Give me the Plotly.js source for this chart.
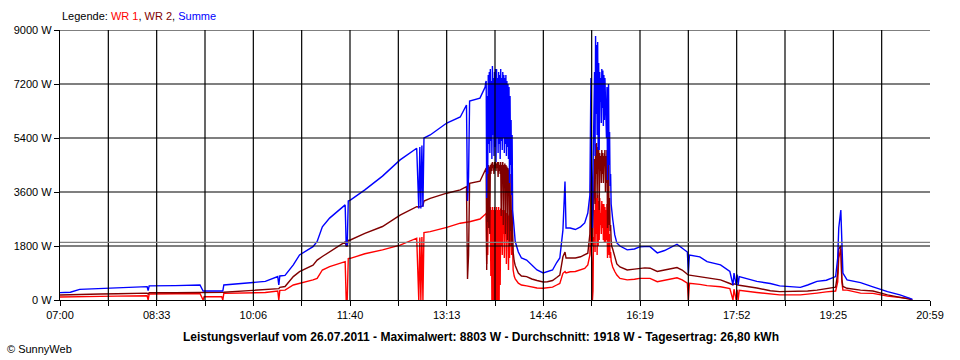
<!DOCTYPE html>
<html>
<head>
<meta charset="utf-8">
<script src="https://cdn.plot.ly/plotly-3.0.1.min.js"></script>
<style>html,body{margin:0;padding:0;background:#fff;}#chart{width:960px;height:360px;}</style>
</head>
<body>
<div id="chart"></div>
<script>
// ---- data ----
const times = ["07:00","07:10","07:19","07:39","07:55","08:17","08:24","08:25","08:26","08:51","09:15","09:18","09:19","09:36","09:37","09:38","10:06","10:18","10:30","10:31","10:32","10:37","10:45","10:51","11:04","11:08","11:13","11:20","11:35","11:36","11:37","11:38","11:40","11:54","12:11","12:28","12:44","12:46","12:47","12:48","12:49","12:50","12:51","12:57","13:13","13:26","13:32","13:33","13:34","13:35","13:45",
"13:50:00","13:50:30","13:51:00","13:51:30","13:52:00","13:52:30","13:53:00","13:53:30","13:54:00","13:54:30","13:55:00","13:55:30","13:56:00","13:56:30","13:57:00","13:57:30","13:58:00","13:58:30","13:59:00","13:59:30",
"14:00:00","14:00:30","14:01:00","14:01:30","14:02:00","14:02:30","14:03:00","14:03:30","14:04:00","14:04:30","14:05:00","14:05:30","14:06:00","14:06:30","14:07:00","14:07:30","14:08:00","14:08:30","14:09:00","14:09:30",
"14:10:00","14:10:30","14:11:00","14:11:30","14:12:00","14:12:30","14:13:00","14:13:30","14:14:00","14:14:30","14:15:00","14:15:30","14:16:00","14:16:30","14:17","14:18","14:19",
"14:22","14:25","14:30","14:35","14:40","14:46","14:50","14:55","14:59","15:02","15:05","15:07","15:08","15:12","15:17","15:22","15:26","15:29",
"15:31:00","15:31:30","15:32:00","15:32:30","15:33:00","15:33:30","15:34:00","15:34:30","15:35:00","15:35:30","15:36:00","15:36:30","15:37:00","15:37:30","15:38:00","15:38:30","15:39:00","15:39:30",
"15:40:00","15:40:30","15:41:00","15:41:30","15:42:00","15:42:30","15:43:00","15:43:30","15:44:00","15:44:30","15:45:00","15:45:30","15:46:00","15:46:30","15:47:00","15:47:30","15:48:00","15:48:30","15:49:00","15:49:30",
"15:50:00","15:50:30","15:51:00","15:51:30","15:52","15:53",
"15:55","15:57","16:00","16:07","16:14","16:19","16:24","16:29","16:36","16:43","16:55","17:00","17:05","17:06","17:07","17:17","17:24","17:37","17:46","17:49","17:50","17:52","17:53","17:54","17:55","18:12","18:25","18:34","18:54","19:01","19:10","19:19","19:22","19:28","19:30","19:31","19:33","19:34","19:35","19:39","19:52","20:04","20:18","20:30","20:39","20:41","20:42"];

const summe = [245,260,355,380,400,440,445,310,470,480,500,300,300,300,300,500,590,620,780,500,800,820,1170,1500,1780,1950,2440,2730,3170,1830,1830,3300,3330,3670,4130,4670,5060,3050,5100,3050,5150,3100,5400,5500,5900,6100,6500,3300,4100,6630,6730,
7100,7250,7300,3400,6800,4200,7500,5200,7600,4900,7700,5300,7300,4700,7800,5500,7400,4800,7600,5100,
7700,4600,7700,5400,7400,4900,7600,5200,7500,4700,7700,5300,7400,5000,7600,5400,7500,4900,7400,5200,
7500,4800,7300,5100,7200,4700,7100,3900,6800,4500,6000,3500,5500,3000,2800,2200,1950,
1600,1400,1330,1150,1000,900,950,1000,1250,1400,2330,3950,2400,2400,2350,2440,2570,2900,
3500,5200,7400,4300,3000,2400,4200,6000,5500,7600,4800,8803,6200,8500,5500,8600,5000,7900,
5000,7600,6600,7400,5900,7700,6400,7650,5800,7500,6000,7400,6200,6700,5400,7100,4000,6500,7200,4500,
5600,3800,4200,3200,2900,2700,
2170,1900,1800,1670,1700,1770,1780,1780,1570,1650,1860,1730,1600,900,1500,1440,1280,1170,950,500,900,500,850,500,780,620,550,470,420,500,620,660,700,780,1400,2400,3000,1500,900,670,580,440,280,170,80,40,20];

const wr2 = [167,170,190,200,210,220,230,200,240,240,245,250,250,250,250,260,320,360,400,380,420,450,780,943,1160,1330,1450,1610,1940,1800,1800,1990,2000,2220,2450,2830,3110,3100,3120,3120,3130,3150,3300,3390,3560,3670,3780,700,1500,3890,3960,
4330,4380,4400,1000,4300,2600,4500,2400,4450,2200,4500,4200,4550,4300,4600,4400,4500,4200,4600,4400,
4600,4300,4550,4400,4600,4100,4600,4300,4500,4200,4600,2800,4500,4300,4600,2500,4500,4200,4550,2200,
4500,4300,4450,2000,4400,4100,4350,1800,4200,2300,3500,1800,3000,1700,1600,1300,1150,
900,800,780,700,650,600,610,650,750,830,1440,1600,1400,1390,1400,1440,1500,1560,
2200,3300,4400,2600,1800,2000,2600,3800,3500,4700,3200,5200,4200,5230,3400,5100,4600,5000,
3000,4900,4300,4800,3900,5000,4200,4900,3900,4800,4600,5000,3600,4800,3900,5000,2400,4300,4700,2500,
3400,2300,2500,2000,1800,1700,
1400,1200,1100,1000,1030,1060,1070,1060,950,1000,1080,1000,830,830,830,780,750,670,550,500,540,520,510,500,490,400,310,280,280,300,330,370,400,430,900,1700,1800,700,450,390,330,300,170,100,30,10,0];

const wr1 = [100,100,110,120,130,140,140,0,200,210,215,0,110,110,0,220,240,250,300,0,320,330,500,550,670,720,1000,1110,1280,0,0,1380,1390,1540,1670,1830,2060,0,2080,0,2100,0,2250,2280,2420,2560,2600,2600,2600,2610,2700,
2830,2870,2900,1200,2800,1500,3000,2700,3000,2600,3100,800,3000,0,3100,0,3000,0,3100,0,
3000,0,3100,0,3000,0,3100,0,3000,500,3050,1800,3000,1500,3000,2200,2950,1400,3000,2500,
2900,1200,2900,2400,2850,1000,2800,1400,2700,1800,2300,1500,2500,1100,1000,800,700,
560,500,470,430,400,390,400,430,500,550,890,950,900,940,950,1000,1050,1170,
1500,2000,3000,1600,1200,0,300,2100,2000,3000,1600,3600,2200,3400,1500,3500,1800,3300,
2000,3400,2500,2900,2200,3300,2400,3200,2000,3200,1900,3100,1900,3000,2000,3200,1400,2600,2800,1500,
2200,1400,1600,1300,1200,1100,
950,830,720,670,690,720,720,720,610,650,740,670,560,0,560,520,480,440,380,0,360,0,340,0,320,250,210,170,170,190,230,270,280,300,600,1400,1700,600,330,330,230,220,130,90,50,10,0];

const tickLabels = ["07:00","08:33","10:06","11:40","13:13","14:46","16:19","17:52","19:25","20:59"];
const yTicks = [0,1800,3600,5400,7200,9000];
const average = 1918;

// ---- helpers ----
const toMin = s => { const p = s.split(":"); return (+p[0]-7)*60 + (+p[1]) + (p[2] ? (+p[2])/60 : 0); };
const xs = times.map(toMin);
const span = toMin(tickLabels[tickLabels.length-1]); // 839
const nDiv = 18;
const tickVals = [], tickText = [];
for (let k = 0; k <= nDiv; k++) {
  tickVals.push(k*span/nDiv);
  tickText.push(k % 2 === 0 ? tickLabels[k/2] : "");
}

const FONT = "Liberation Sans, Arial, sans-serif";
const LW = 1.4;

const traces = [
  {x: xs, y: wr1, name: "WR 1", mode: "lines", line: {color: "#ff0000", width: LW}},
  {x: xs, y: wr2, name: "WR 2", mode: "lines", line: {color: "#800000", width: LW}},
  {x: xs, y: summe, name: "Summe", mode: "lines", line: {color: "#0000ff", width: LW}}
];

const shapes = [];
for (let k = 1; k < nDiv; k++) {
  shapes.push({type: "line", xref: "x", yref: "paper", x0: tickVals[k], x1: tickVals[k], y0: 0, y1: 1,
    line: {color: "#000", width: 1.2}, layer: "above"});
}
yTicks.slice(1).forEach(v => shapes.push({type: "line", xref: "paper", yref: "y", x0: 0, x1: 1, y0: v, y1: v,
  line: {color: "#000", width: 1.2}, layer: "above"}));
shapes.push({type: "line", xref: "paper", yref: "y", x0: 0, x1: 1, y0: average, y1: average,
  line: {color: "#808080", width: 1.2}, layer: "above"});

const layout = {
  width: 960, height: 360,
  margin: {l: 60, r: 30, t: 30, b: 60},
  paper_bgcolor: "#fff", plot_bgcolor: "#fff",
  showlegend: false,
  font: {family: FONT, size: 11, color: "#000"},
  xaxis: {range: [0, span], tickmode: "array", tickvals: tickVals, ticktext: tickText, showgrid: false, zeroline: false,
    showline: true, linecolor: "#000", linewidth: 1.2, ticks: "outside", ticklen: 5, tickcolor: "#000",
    tickfont: {family: FONT, size: 11, color: "#000"}, layer: "above traces", fixedrange: true},
  yaxis: {range: [0, 9000], tickmode: "array", tickvals: yTicks, ticktext: yTicks.map(v => v + " W"), showgrid: false, zeroline: false,
    showline: true, linecolor: "#000", linewidth: 1.2, ticks: "outside", ticklen: 5, tickcolor: "#000",
    tickfont: {family: FONT, size: 11, color: "#000"}, layer: "above traces", fixedrange: true},
  shapes: shapes,
  annotations: [
    {xref: "paper", yref: "paper", x: 0, y: (300-16)/270, xanchor: "left", yanchor: "middle", showarrow: false,
     text: 'Legende: <span style="color:#ff0000">WR 1</span>, <span style="color:#800000">WR 2</span>, <span style="color:#0000ff">Summe</span>',
     font: {family: FONT, size: 11, color: "#000"}},
    {xref: "paper", yref: "paper", x: (480.5-60)/870, y: (300-337)/270, xanchor: "center", yanchor: "middle", showarrow: false,
     text: "<b>Leistungsverlauf vom 26.07.2011 - Maximalwert: 8803 W - Durchschnitt: 1918 W - Tagesertrag: 26,80 kWh</b>",
     font: {family: FONT, size: 12, color: "#000"}},
    {xref: "paper", yref: "paper", x: (5-60)/870, y: (300-349)/270, xanchor: "left", yanchor: "middle", showarrow: false,
     text: "© SunnyWeb", font: {family: FONT, size: 11, color: "#000"}}
  ]
};

Plotly.newPlot("chart", traces, layout, {displayModeBar: false, staticPlot: true});
</script>
</body>
</html>
